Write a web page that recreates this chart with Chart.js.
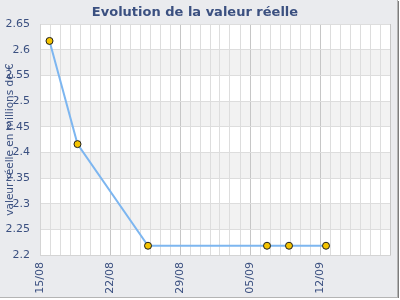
<!DOCTYPE html>
<html>
<head>
<meta charset="utf-8">
<script src="https://cdn.jsdelivr.net/npm/chart.js@4/dist/chart.umd.min.js"></script>
<style>
  body { margin: 0; background: #fff; }
  #wrap {
    width: 397px; height: 297px;
    border-right: 1px solid #b4b4b4;
    border-bottom: 1px solid #b4b4b4;
    box-shadow: 1px 1px 0 #7c7c7c;
  }
  canvas { display: block; background: #eaebee; }
</style>
</head>
<body>
<div id="wrap"><canvas id="chart" width="397" height="297"></canvas></div>
<script>
// days after 15/08 for each measure
const dayOffsets = [0.95, 3.75, 10.8, 22.7, 24.9, 28.6];
const realValues = [2.617, 2.416, 2.218, 2.218, 2.218, 2.218];
// one label per week, starting at day 0
const weekLabels = ['15/08', '22/08', '29/08', '05/09', '12/09'];

const textColor = '#3b5080';

// alternating horizontal bands in the plot
const bands = {
  id: 'bands',
  beforeDraw(chart) {
    const { ctx, chartArea: a, scales } = chart;
    const ticks = scales.y.ticks;
    ctx.save();
    ctx.fillStyle = '#ffffff';
    ctx.fillRect(a.left, a.top, a.right - a.left, a.bottom - a.top);
    ctx.fillStyle = '#f2f2f2';
    for (let k = 0; k < ticks.length - 1; k++) {
      if (k % 2 === 1) {
        const y1 = scales.y.getPixelForValue(ticks[k].value);
        const y2 = scales.y.getPixelForValue(ticks[k + 1].value);
        ctx.fillRect(a.left, y2, a.right - a.left, y1 - y2);
      }
    }
    ctx.restore();
  }
};

const points = dayOffsets.map((d, i) => ({ x: d, y: realValues[i] }));

new Chart(document.getElementById('chart'), {
  type: 'line',
  data: {
    datasets: [{
      data: points,
      borderColor: '#7db6f0',
      borderWidth: 2,
      pointRadius: 3.5,
      pointBackgroundColor: '#f5c400',
      pointBorderColor: '#1e1e1e',
      pointBorderWidth: 1,
      tension: 0
    }]
  },
  options: {
    responsive: false,
    animation: false,
    layout: { padding: { left: 0, right: 7, top: 0, bottom: 0 } },
    plugins: {
      legend: { display: false },
      tooltip: { enabled: false },
      title: {
        display: true,
        text: 'Evolution de la valeur réelle',
        color: textColor,
        font: { family: 'DejaVu Sans', size: 13, weight: 'bold' },
        padding: { top: 5, bottom: 3.4 }
      }
    },
    scales: {
      x: {
        type: 'linear',
        min: 0,
        max: 35,
        afterFit(scale) {
          scale.height = 42;
          scale.paddingLeft = 0;
          scale.paddingRight = 0;
        },
        ticks: {
          stepSize: 1,
          autoSkip: false,
          minRotation: 90,
          maxRotation: 90,
          padding: 7,
          color: textColor,
          font: { family: 'DejaVu Sans', size: 11 },
          callback: (v) => (v % 7 === 0 && weekLabels[v / 7]) ? weekLabels[v / 7] : ''
        },
        grid: {
          drawTicks: false,
          color: (c) => (c.tick && c.tick.value % 7 === 0) ? '#c6c6c6' : '#dddddd'
        },
        border: { color: '#d4d4d4' }
      },
      y: {
        min: 2.2,
        max: 2.65,
        afterFit(scale) { scale.width = 40; },
        ticks: {
          stepSize: 0.05,
          padding: 10,
          color: textColor,
          font: { family: 'DejaVu Sans', size: 11 },
          callback: (v) => String(Math.round(v * 100) / 100)
        },
        grid: { drawTicks: false, color: '#dddddd' },
        border: { color: '#d4d4d4' },
        title: {
          display: true,
          text: 'valeur réelle en millions de €',
          color: textColor,
          font: { family: 'DejaVu Sans', size: 10.5 }
        }
      }
    }
  },
  plugins: [bands]
});
</script>
</body>
</html>
